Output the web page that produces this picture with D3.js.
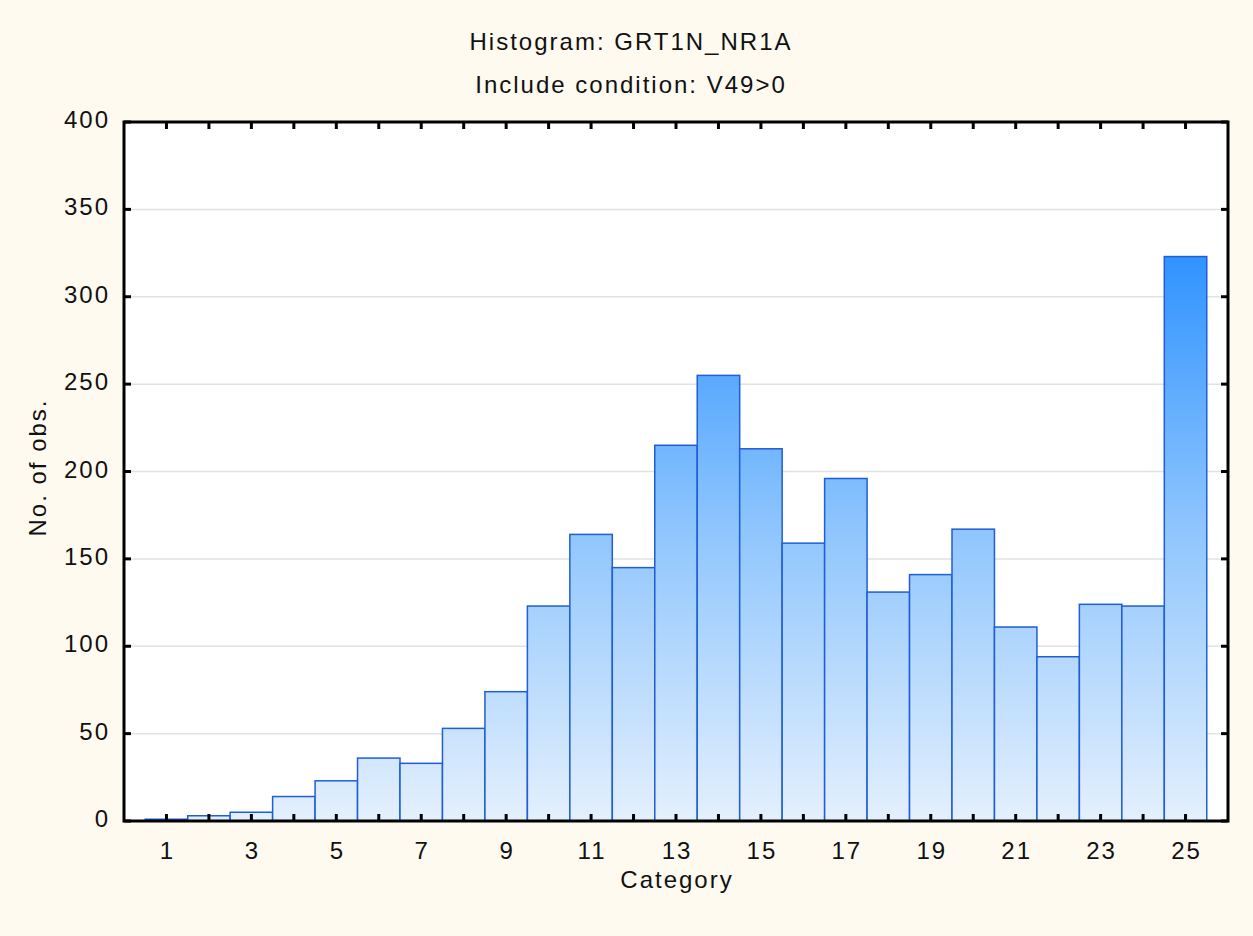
<!DOCTYPE html>
<html>
<head>
<meta charset="utf-8">
<script src="https://cdn.jsdelivr.net/npm/d3@7"></script>
<style>
  body { margin: 0; background: #fefaf0; }
  svg { display: block; }
  text { font-family: "Liberation Sans", Arial, sans-serif; fill: #111; font-size: 24px; letter-spacing: 2px; }
</style>
</head>
<body>
<script>
// data
var categories = d3.range(1, 26);
var counts = [1, 3, 5, 14, 23, 36, 33, 53, 74, 123, 164, 145, 215, 255, 213, 159, 196, 131, 141, 167, 111, 94, 124, 123, 323];
var xTickLabels = [1, 3, 5, 7, 9, 11, 13, 15, 17, 19, 21, 23, 25];
var yTicks = [0, 50, 100, 150, 200, 250, 300, 350, 400];

var data = categories.map(function(c, i) { return {cat: c, n: counts[i]}; });

var W = 1253, H = 936;
var margin = {top: 122, right: 25, bottom: 115, left: 124},
    width = W - margin.left - margin.right,
    height = H - margin.top - margin.bottom;
var ls = 2; // letter spacing, used to re-centre labels

var x = d3.scaleLinear().domain([0, 26]).range([0, width]);
var y = d3.scaleLinear().domain([0, 400]).range([height, 0]);
var bw = x(1) - x(0);

var svg = d3.select("body").append("svg")
    .attr("width", W)
    .attr("height", H);

var defs = svg.append("defs");
var grad = defs.append("linearGradient")
    .attr("id", "barGrad")
    .attr("gradientUnits", "userSpaceOnUse")
    .attr("x1", 0).attr("x2", 0)
    .attr("y1", y(0)).attr("y2", y(330));
grad.append("stop").attr("offset", "0%").attr("stop-color", "#e4f0fd");
grad.append("stop").attr("offset", "50%").attr("stop-color", "#90c6fd");
grad.append("stop").attr("offset", "100%").attr("stop-color", "#2c91ff");

var g = svg.append("g")
    .attr("transform", "translate(" + margin.left + "," + margin.top + ")");

// plot area
g.append("rect")
    .attr("width", width)
    .attr("height", height)
    .attr("fill", "#fff");

// gridlines
g.selectAll(".grid")
    .data(yTicks.slice(1, -1))
  .enter().append("line")
    .attr("x1", 0).attr("x2", width)
    .attr("y1", function(d) { return y(d); })
    .attr("y2", function(d) { return y(d); })
    .attr("stroke", "#e2e2e2")
    .attr("stroke-width", 1.5);

// bars
g.selectAll(".bar")
    .data(data)
  .enter().append("rect")
    .attr("x", function(d) { return x(d.cat) - bw / 2; })
    .attr("y", function(d) { return y(d.n); })
    .attr("width", bw)
    .attr("height", function(d) { return y(0) - y(d.n); })
    .attr("fill", "url(#barGrad)")
    .attr("stroke", "#1f5ed6")
    .attr("stroke-width", 1.5);

// frame
g.append("rect")
    .attr("width", width)
    .attr("height", height)
    .attr("fill", "none")
    .attr("stroke", "#000")
    .attr("stroke-width", 3);

// ticks, all pointing inward
var tk = 7;
g.selectAll(".xtb").data(categories).enter().append("line")
    .attr("x1", function(d) { return x(d); }).attr("x2", function(d) { return x(d); })
    .attr("y1", height).attr("y2", height - tk)
    .attr("stroke", "#000").attr("stroke-width", 3);
g.selectAll(".xtt").data(categories).enter().append("line")
    .attr("x1", function(d) { return x(d); }).attr("x2", function(d) { return x(d); })
    .attr("y1", 0).attr("y2", tk)
    .attr("stroke", "#000").attr("stroke-width", 3);
g.selectAll(".ytl").data(yTicks).enter().append("line")
    .attr("x1", 0).attr("x2", tk)
    .attr("y1", function(d) { return y(d); }).attr("y2", function(d) { return y(d); })
    .attr("stroke", "#000").attr("stroke-width", 3);
g.selectAll(".ytr").data(yTicks).enter().append("line")
    .attr("x1", width).attr("x2", width - tk)
    .attr("y1", function(d) { return y(d); }).attr("y2", function(d) { return y(d); })
    .attr("stroke", "#000").attr("stroke-width", 3);

// tick labels
g.selectAll(".xl").data(xTickLabels).enter().append("text")
    .attr("x", function(d) { return x(d) + ls / 2; })
    .attr("y", height + 38)
    .attr("text-anchor", "middle")
    .text(function(d) { return d; });
g.selectAll(".yl").data(yTicks).enter().append("text")
    .attr("x", -16 + ls)
    .attr("y", function(d) { return y(d) + 6; })
    .attr("text-anchor", "end")
    .text(function(d) { return d; });

// titles
svg.append("text")
    .attr("x", 630 + ls / 2).attr("y", 50)
    .attr("text-anchor", "middle")
    .text("Histogram: GRT1N_NR1A");
svg.append("text")
    .attr("x", 630 + ls / 2).attr("y", 93)
    .attr("text-anchor", "middle")
    .text("Include condition: V49>0");

// axis titles
svg.append("text")
    .attr("x", margin.left + width / 2 + ls / 2).attr("y", 888)
    .attr("text-anchor", "middle")
    .text("Category");
svg.append("text")
    .attr("transform", "translate(46," + (margin.top + height / 2 - 4) + ") rotate(-90)")
    .attr("text-anchor", "middle")
    .text("No. of obs.");
</script>
</body>
</html>
